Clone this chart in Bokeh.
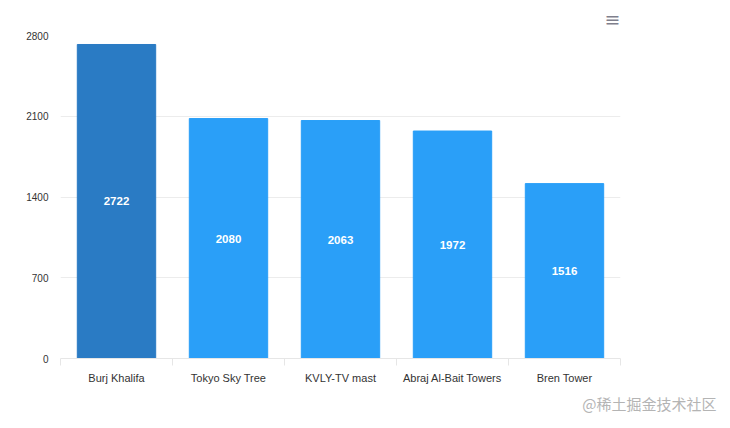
from bokeh.plotting import figure
from bokeh.models import ColumnDataSource, FixedTicker, Range1d, Title, LabelSet
from bokeh.core.properties import value
from bokeh.embed import file_html
from bokeh.resources import INLINE

categories = ["Burj Khalifa", "Tokyo Sky Tree", "KVLY-TV mast", "Abraj Al-Bait Towers", "Bren Tower"]
heights = [2722, 2080, 2063, 1972, 1516]
y_ticks = [0, 700, 1400, 2100, 2800]

DARK = "#2a7bc4"
LIGHT = "#2a9ff8"

xs = [i + 0.5 for i in range(len(categories))]
colors = [DARK] + [LIGHT] * (len(categories) - 1)
src = ColumnDataSource(dict(x=xs, top=heights, mid=[h / 2 for h in heights],
                            lab=[str(h) for h in heights], color=colors))

p = figure(width=728, height=426, output_backend="svg", toolbar_location=None,
           x_range=Range1d(0, len(categories)), y_range=Range1d(0, 2800),
           min_border_left=60, min_border_right=108, min_border_top=35, min_border_bottom=68)
p.outline_line_color = None
p.background_fill_color = "white"

p.vbar(x="x", top="top", width=0.7, color="color", source=src)

p.add_layout(LabelSet(x="x", y="mid", text="lab", source=src, text_color="white",
                      text_font=value("Liberation Sans"), text_font_style="bold",
                      text_font_size="11.5px", text_align="center", text_baseline="middle"))

# x axis
p.xaxis.ticker = FixedTicker(ticks=xs, minor_ticks=list(range(len(categories) + 1)))
p.xaxis.major_label_overrides = {x: c for x, c in zip(xs, categories)}
p.xaxis.major_tick_out = 0
p.xaxis.major_tick_in = 0
p.xaxis.minor_tick_out = 7
p.xaxis.minor_tick_in = 0
p.xaxis.minor_tick_line_color = "#e6e6e6"
p.xaxis.axis_line_color = "#e6e6e6"
p.xaxis.major_label_text_font = "Liberation Sans"
p.xaxis.major_label_text_font_size = "11px"
p.xaxis.major_label_text_color = "#333333"
p.xaxis.major_label_standoff = 6
p.xgrid.grid_line_color = None

# y axis
p.yaxis.ticker = FixedTicker(ticks=y_ticks)
p.yaxis.axis_line_color = None
p.yaxis.major_tick_out = 0
p.yaxis.major_tick_in = 0
p.yaxis.major_tick_line_color = None
p.yaxis.minor_tick_line_color = None
p.yaxis.major_label_text_font = "Liberation Sans"
p.yaxis.major_label_text_font_size = "10px"
p.yaxis.major_label_text_color = "#333333"
p.yaxis.major_label_standoff = 12
p.ygrid.grid_line_color = "#ececec"
p.ygrid.grid_line_width = 1

# menu icon (above, right) and watermark (below, right)
p.add_layout(Title(text="≡", align="right", offset=0, text_font="DejaVu Sans",
                   text_font_size="19px", text_font_style="normal", text_color="#7f7f8c",
                   vertical_align="middle"), "above")
p.add_layout(Title(text="@稀土掘金技术社区", align="right", offset=-96,
                   text_font="Noto Sans CJK SC", text_font_size="15px",
                   text_font_style="normal", text_color="#b4b4b4",
                   vertical_align="middle"), "below")

open("out.html", "w").write(file_html(p, INLINE))
